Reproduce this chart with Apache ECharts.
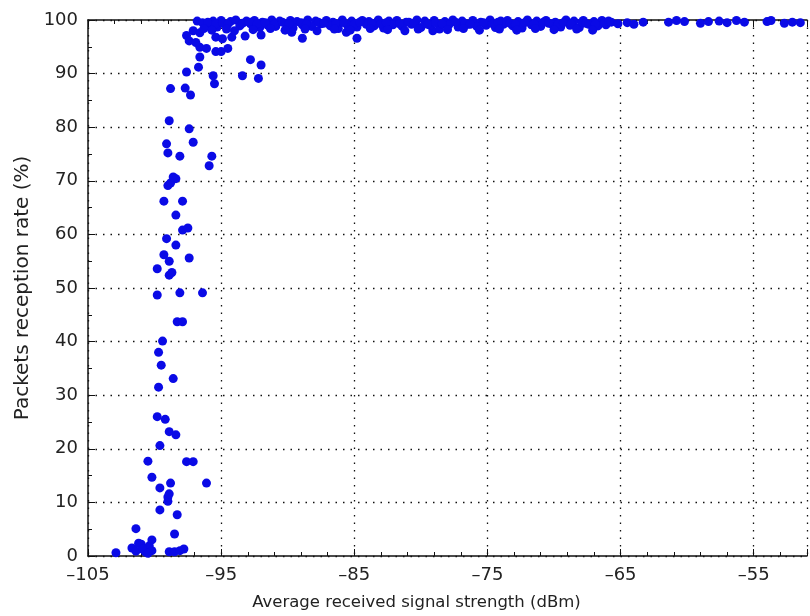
<!DOCTYPE html>
<html lang="en">
<head>
<meta charset="UTF-8">
<title>Packets reception rate vs signal strength</title>
<script src="https://cdn.jsdelivr.net/npm/echarts@6/dist/echarts.min.js"></script>
<style>
  html, body { margin: 0; padding: 0; background: #fff; }
</style>
</head>
<body>
<div id="main" style="width: 810px;height:616px;"></div>
<script>
  // x ticks (dBm) and y ticks (%)
  const xTicks = [-105, -95, -85, -75, -65, -55];
  const yTicks = [0, 10, 20, 30, 40, 50, 60, 70, 80, 90, 100];

  // transition region
  const lowSignal = [
    -102.9, -101.7, -101.4, -101.0, -100.7, -100.4, -100.2, -100.2, -101.4, -101.2, -100.9, -100.5,
    -98.9, -98.5, -98.1, -97.8, -98.5, -98.3, -99.6, -99.0, -99.0, -98.9, -99.6, -98.8,
    -100.2, -96.1, -100.5, -97.6, -97.1, -99.6, -99.8, -99.2, -98.9, -98.4, -99.7, -98.6,
    -99.5, -99.7, -99.4, -98.3, -97.9, -99.8, -98.1, -96.4, -98.9, -98.7, -99.8, -99.3,
    -98.9, -97.4, -98.4, -99.1, -97.9, -97.5, -98.4, -99.3, -97.9, -99.0, -98.8, -98.4,
    -98.6, -95.9, -98.1, -95.7, -99.0, -99.1, -97.1, -97.4, -98.9, -98.8, -97.7, -97.3,
    -97.6, -96.7, -96.6, -95.6, -95.5, -93.4, -92.2, -92.8, -92.0, -95.4, -95.0, -94.5,
    -96.6, -96.1, -97.6, -97.4, -96.9, -97.1, -96.6, -95.4, -94.9, -94.2, -92.0, -93.2,
    -88.9, -84.8, -85.6, -89.7, -79.1, -96.8, -96.4
  ];
  const lowRate = [
    0.6, 1.5, 0.9, 2.2, 0.8, 1.9, 1.0, 3.0, 5.1, 2.4, 1.3, 0.5,
    0.8, 0.8, 1.0, 1.3, 4.1, 7.7, 8.6, 10.2, 11.0, 11.6, 12.7, 13.6,
    14.7, 13.6, 17.7, 17.6, 17.6, 20.6, 26.0, 25.5, 23.2, 22.6, 31.5, 33.1,
    35.6, 38.0, 40.1, 43.7, 43.7, 48.7, 49.1, 49.1, 52.4, 52.9, 53.6, 56.2,
    55.0, 55.6, 58.0, 59.2, 60.8, 61.2, 63.6, 66.2, 66.2, 69.1, 69.6, 70.4,
    70.7, 72.8, 74.6, 74.6, 75.2, 76.9, 77.2, 79.7, 81.2, 87.2, 87.3, 86.0,
    90.3, 91.2, 93.1, 89.6, 88.1, 89.6, 89.1, 92.6, 91.6, 94.1, 94.1, 94.7,
    94.9, 94.7, 97.1, 96.1, 95.8, 98.0, 97.6, 96.8, 96.5, 96.8, 97.2, 97.0,
    96.6, 96.6, 97.7, 97.7, 98.0, 99.8, 99.5
  ];

  // saturated band near 100 %
  const highSignal = [
    -95.6, -95.0, -94.3, -93.9, -93.1, -92.5, -91.9, -91.2, -90.6, -89.8, -89.3, -88.5,
    -87.9, -87.1, -86.6, -85.9, -85.2, -84.4, -83.9, -83.2, -82.4, -81.8, -81.1, -80.3,
    -79.7, -79.0, -78.2, -77.6, -76.9, -76.1, -75.5, -74.8, -74.0, -73.5, -72.7, -72.0,
    -71.3, -70.6, -69.9, -69.1, -68.5, -67.8, -67.0, -66.4,
    -95.9, -95.3, -94.7, -93.6, -92.8, -92.1, -91.5, -90.9, -90.1, -89.6, -88.9, -88.2,
    -87.5, -86.8, -86.2, -85.5, -84.8, -84.1, -83.5, -82.8, -82.1, -81.4, -80.7, -80.0,
    -79.3, -78.6, -77.9, -77.2, -76.5, -75.8, -75.1, -74.4, -73.8, -73.1, -72.4, -71.7,
    -71.0, -70.2, -69.5, -68.8, -68.1, -67.4, -66.7, -66.1,
    -96.0, -95.4, -94.9, -94.5, -93.4, -92.9, -92.3, -91.7, -91.0, -90.4, -89.9, -89.0,
    -88.6, -87.7, -87.3, -86.4, -85.8, -85.0, -84.6, -83.7, -83.0, -82.6, -81.6, -80.9,
    -80.5, -79.5, -78.9, -78.4, -77.4, -76.7, -76.3, -75.3, -74.6, -74.2, -73.3, -72.9,
    -72.2, -71.5, -70.8, -70.4, -69.7, -69.3, -68.7, -67.9, -67.6, -66.9, -66.2, -65.9,
    -96.3, -95.7, -94.6, -94.0, -92.6, -91.3, -90.2, -88.7, -87.8, -86.5, -85.3, -83.8,
    -82.5, -81.2, -80.2, -78.0, -76.8, -75.6, -74.1, -72.8, -71.4, -70.0, -68.3, -67.1,
    -65.7, -65.2, -64.5, -64.0, -63.3, -61.4, -60.8, -60.2, -59.0, -58.4, -57.6, -57.0,
    -56.3, -55.7, -54.0, -53.7, -52.7, -52.1, -51.5
  ];
  const highRate = [
    99.8, 99.9, 99.7, 100, 99.8, 99.9, 99.6, 100, 99.8, 99.9, 99.7, 100,
    99.8, 99.9, 99.6, 100, 99.8, 99.9, 99.7, 100, 99.8, 99.9, 99.6, 100,
    99.8, 99.9, 99.7, 100, 99.8, 99.9, 99.6, 100, 99.8, 99.9, 99.7, 100,
    99.8, 99.9, 99.6, 100, 99.8, 99.9, 99.7, 99.9,
    99.1, 98.7, 99.2, 98.9, 99.3, 98.6, 99.0, 98.8, 99.2, 98.5, 99.1, 98.8,
    99.3, 98.9, 98.4, 99.0, 98.7, 99.2, 98.9, 98.5, 99.1, 98.8, 99.2, 98.6,
    99.0, 98.3, 99.1, 98.7, 99.2, 98.8, 99.0, 98.6, 99.2, 98.9, 98.5, 99.1,
    98.8, 99.3, 98.7, 99.0, 98.6, 99.2, 98.9, 99.1,
    99.6, 99.3, 99.5, 99.2, 99.4, 99.6, 99.3, 99.5, 99.2, 99.6, 99.3, 99.5,
    99.2, 99.6, 99.4, 99.3, 99.5, 99.2, 99.6, 99.4, 99.3, 99.5, 99.3, 99.6,
    99.4, 99.2, 99.5, 99.3, 99.6, 99.4, 99.2, 99.5, 99.3, 99.6, 99.4, 99.2,
    99.5, 99.3, 99.6, 99.4, 99.2, 99.5, 99.3, 99.6, 99.4, 99.2, 99.5, 99.8,
    98.4, 98.1, 98.3, 98.0, 98.2, 98.4, 98.1, 98.3, 98.0, 98.3, 98.1, 98.4,
    98.2, 98.0, 98.3, 98.2, 98.4, 98.1, 98.3, 98.1, 98.4, 98.2, 98.3, 98.1,
    99.6, 99.3, 99.5, 99.2, 99.6, 99.6, 99.9, 99.7, 99.4, 99.7, 99.8, 99.5,
    99.9, 99.6, 99.7, 99.9, 99.4, 99.6, 99.5
  ];

  const points = [];
  lowSignal.forEach((x, i) => points.push([x, lowRate[i]]));
  highSignal.forEach((x, i) => points.push([x, highRate[i]]));

  const font = 'DejaVu Sans';
  const gridLine = { show: true, lineStyle: { color: '#111', type: [1.5, 6], width: 1.3 } };
  const dash = v => (v < 0 ? '\u2013' + Math.abs(v) : String(v));

  const myChart = echarts.init(document.getElementById('main'));
  const option = {
    animation: false,
    grid: { left: 88, right: 0, top: 20, bottom: 59 },
    xAxis: [
      {
        type: 'value',
        min: -105,
        max: -51,
        interval: 10,
        name: 'Average received signal strength (dBm)',
        nameLocation: 'middle',
        nameGap: 38,
        nameTextStyle: { fontFamily: font, fontSize: 16.5, color: '#222', padding: [0, 62, 0, 0] },
        axisLine: { show: true, onZero: false, lineStyle: { color: '#111', width: 1.5 } },
        axisTick: { inside: true, length: 7, lineStyle: { color: '#111' } },
        minorTick: { show: true, splitNumber: 5, length: 4, lineStyle: { color: '#111' } },
        axisLabel: {
          fontFamily: font, fontSize: 18, color: '#222', margin: 10,
          formatter: v => (xTicks.includes(v) ? dash(v) : '')
        },
        splitLine: gridLine
      },
      {
        type: 'value',
        position: 'top',
        min: -105,
        max: -51,
        interval: 10,
        axisLine: { show: true, onZero: false, lineStyle: { color: '#111', width: 1.5 } },
        axisTick: { inside: true, length: 7, lineStyle: { color: '#111' } },
        minorTick: { show: true, splitNumber: 5, length: 4, lineStyle: { color: '#111' } },
        axisLabel: { show: false },
        splitLine: { show: false }
      }
    ],
    yAxis: {
      type: 'value',
      min: 0,
      max: 100,
      interval: 10,
      name: 'Packets reception rate (%)',
      nameLocation: 'middle',
      nameGap: 46,
      nameTextStyle: { fontFamily: font, fontSize: 20, color: '#222' },
      axisLine: { show: true, lineStyle: { color: '#111', width: 1.5 } },
      axisTick: { inside: true, length: 7, lineStyle: { color: '#111' } },
      minorTick: { show: true, splitNumber: 2, length: 4, lineStyle: { color: '#111' } },
      axisLabel: {
        fontFamily: font, fontSize: 18, color: '#222', margin: 10,
        formatter: v => (yTicks.includes(v) ? String(v) : '')
      },
      splitLine: gridLine
    },
    series: [
      {
        type: 'scatter',
        data: points,
        symbolSize: 9,
        clip: false,
        itemStyle: { color: '#0a0ae6', opacity: 1 }
      }
    ]
  };
  myChart.setOption(option);
</script>
</body>
</html>
